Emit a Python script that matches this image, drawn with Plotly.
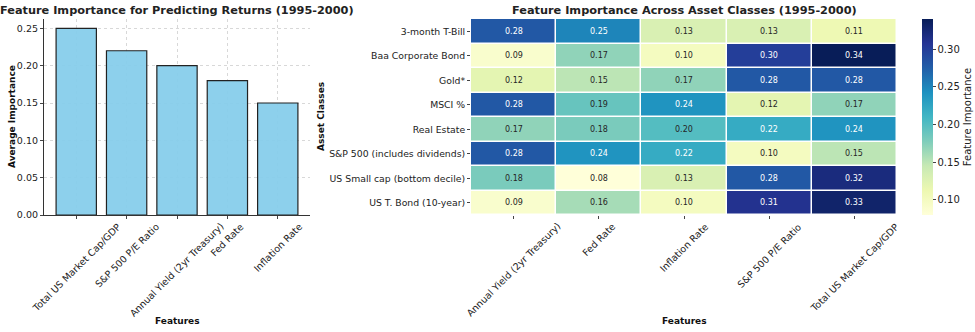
import plotly.graph_objects as go

# ---- data ----
bar_features = ["Total US Market Cap/GDP", "S&P 500 P/E Ratio", "Annual Yield (2yr Treasury)",
                "Fed Rate", "Inflation Rate"]
bar_values = [0.25, 0.22, 0.20, 0.18, 0.15]

heat_features = ["Annual Yield (2yr Treasury)", "Fed Rate", "Inflation Rate",
                 "S&P 500 P/E Ratio", "Total US Market Cap/GDP"]
asset_classes = ["3-month T-Bill", "Baa Corporate Bond", "Gold*", "MSCI %", "Real Estate",
                 "S&P 500 (includes dividends)", "US Small cap (bottom decile)", "US T. Bond (10-year)"]
heat_values = [
    [0.28, 0.25, 0.13, 0.13, 0.11],
    [0.09, 0.17, 0.10, 0.30, 0.34],
    [0.12, 0.15, 0.17, 0.28, 0.28],
    [0.28, 0.19, 0.24, 0.12, 0.17],
    [0.17, 0.18, 0.20, 0.22, 0.24],
    [0.28, 0.24, 0.22, 0.10, 0.15],
    [0.18, 0.08, 0.13, 0.28, 0.32],
    [0.09, 0.16, 0.10, 0.31, 0.33],
]

W, H = 975, 332
def px_x(p): return p / W
def px_y(p): return 1 - p / H

FONT = "DejaVu Sans"
YlGnBu = [
    [0.0, "#ffffd9"], [0.125, "#edf8b1"], [0.25, "#c7e9b4"], [0.375, "#7fcdbb"],
    [0.5, "#41b6c4"], [0.625, "#1d91c0"], [0.75, "#225ea8"], [0.875, "#253494"], [1.0, "#081d58"],
]
zmin, zmax = 0.08, 0.34

fig = go.Figure()

fig.add_trace(go.Bar(
    x=list(range(len(bar_features))), y=bar_values,
    width=0.8,
    marker=dict(color="rgba(135,206,235,0.95)", line=dict(color="#222", width=1.2)),
    xaxis="x", yaxis="y", showlegend=False,
))

fig.add_trace(go.Heatmap(
    z=heat_values, x=list(range(len(heat_features))), y=asset_classes,
    colorscale=YlGnBu, zmin=zmin, zmax=zmax,
    xgap=1.5, ygap=1.5,
    xaxis="x2", yaxis="y2",
    colorbar=dict(
        x=px_x(922), xanchor="left", y=px_y(215), yanchor="bottom",
        len=196 / H, lenmode="fraction", thickness=11, thicknessmode="pixels",
        outlinewidth=0, ticks="outside", ticklen=3, tickcolor="#444",
        xpad=0, ypad=0,
        tickvals=[0.10, 0.15, 0.20, 0.25, 0.30], ticktext=["0.10", "0.15", "0.20", "0.25", "0.30"],
        tickfont=dict(size=10, color="#222", family=FONT),
        title=dict(text="Feature Importance", side="right", font=dict(size=10, color="#222", family=FONT)),
    ),
))

axis_font = dict(size=9.5, color="#222", family=FONT)
row_font = dict(size=9.3, color="#222", family=FONT)
title_font = dict(size=9, color="#111", family=FONT)

annotations = []
for i, row_name in enumerate(asset_classes):
    for j in range(len(heat_features)):
        v = heat_values[i][j]
        annotations.append(dict(
            x=j, y=row_name, xref="x2", yref="y2", text=f"{v:.2f}", showarrow=False,
            font=dict(size=8, color="white" if v > 0.21 else "#262626", family=FONT),
        ))

# rotated, centered x tick labels (matplotlib rotation=45 style)
for j, name in enumerate(bar_features):
    annotations.append(dict(x=j, y=px_y(218), xref="x", yref="paper", text=name,
                            textangle=-45, showarrow=False, xanchor="center", yanchor="top",
                            font=axis_font))
for j, name in enumerate(heat_features):
    annotations.append(dict(x=j, y=px_y(218), xref="x2", yref="paper", text=name,
                            textangle=-45, showarrow=False, xanchor="center", yanchor="top",
                            font=axis_font))

# axis titles
annotations.append(dict(x=px_x(177), y=px_y(321), xref="paper", yref="paper", text="<b>Features</b>",
                        showarrow=False, xanchor="center", yanchor="middle", font=title_font))
annotations.append(dict(x=px_x(684), y=px_y(321), xref="paper", yref="paper", text="<b>Features</b>",
                        showarrow=False, xanchor="center", yanchor="middle", font=title_font))
annotations.append(dict(x=px_x(12), y=px_y(117), xref="paper", yref="paper", text="<b>Average Importance</b>",
                        textangle=-90, showarrow=False, xanchor="center", yanchor="middle", font=title_font))
annotations.append(dict(x=px_x(321), y=px_y(117), xref="paper", yref="paper", text="<b>Asset Classes</b>",
                        textangle=-90, showarrow=False, xanchor="center", yanchor="middle", font=title_font))

# titles
annotations.append(dict(x=px_x(177), y=px_y(10), xref="paper", yref="paper",
                        text="<b>Feature Importance for Predicting Returns (1995-2000)</b>",
                        showarrow=False, xanchor="center", yanchor="middle",
                        font=dict(size=11.3, color="#222", family=FONT)))
annotations.append(dict(x=px_x(684), y=px_y(10), xref="paper", yref="paper",
                        text="<b>Feature Importance Across Asset Classes (1995-2000)</b>",
                        showarrow=False, xanchor="center", yanchor="middle",
                        font=dict(size=11.3, color="#222", family=FONT)))

fig.update_layout(
    width=W, height=H,
    margin=dict(l=0, r=0, t=0, b=0, autoexpand=False),
    paper_bgcolor="white", plot_bgcolor="white",
    font=dict(family=FONT, color="#222"),
    annotations=annotations,
    xaxis=dict(
        domain=[px_x(44), px_x(310)], anchor="y", automargin=False,
        range=[-0.64, 4.64],
        tickmode="array", tickvals=list(range(len(bar_features))), showticklabels=False,
        ticks="outside", ticklen=3, tickcolor="#444",
        showgrid=True, gridcolor="#d8d8d8", griddash="dot", gridwidth=1,
        showline=True, linecolor="#333", linewidth=1.2, zeroline=False,
    ),
    yaxis=dict(
        domain=[px_y(215), px_y(19)], anchor="x", automargin=False,
        range=[0, 0.2625],
        tickvals=[0, 0.05, 0.10, 0.15, 0.20, 0.25],
        ticktext=["0.00", "0.05", "0.10", "0.15", "0.20", "0.25"],
        tickfont=axis_font,
        ticks="outside", ticklen=3, tickcolor="#444",
        showgrid=True, gridcolor="#d8d8d8", griddash="dot", gridwidth=1,
        showline=True, linecolor="#333", linewidth=1.2, zeroline=False,
    ),
    xaxis2=dict(
        domain=[px_x(471), px_x(897)], anchor="y2", automargin=False,
        range=[-0.5, len(heat_features) - 0.5],
        tickmode="array", tickvals=list(range(len(heat_features))), showticklabels=False,
        ticks="outside", ticklen=3, tickcolor="#444",
        showgrid=False, showline=False, zeroline=False,
    ),
    yaxis2=dict(
        domain=[px_y(215), px_y(19)], anchor="x2", automargin=False,
        autorange="reversed", tickfont=row_font,
        ticks="outside", ticklen=3, tickcolor="#444",
        showgrid=False, showline=False, zeroline=False,
    ),
)

fig.write_html("out.html")
